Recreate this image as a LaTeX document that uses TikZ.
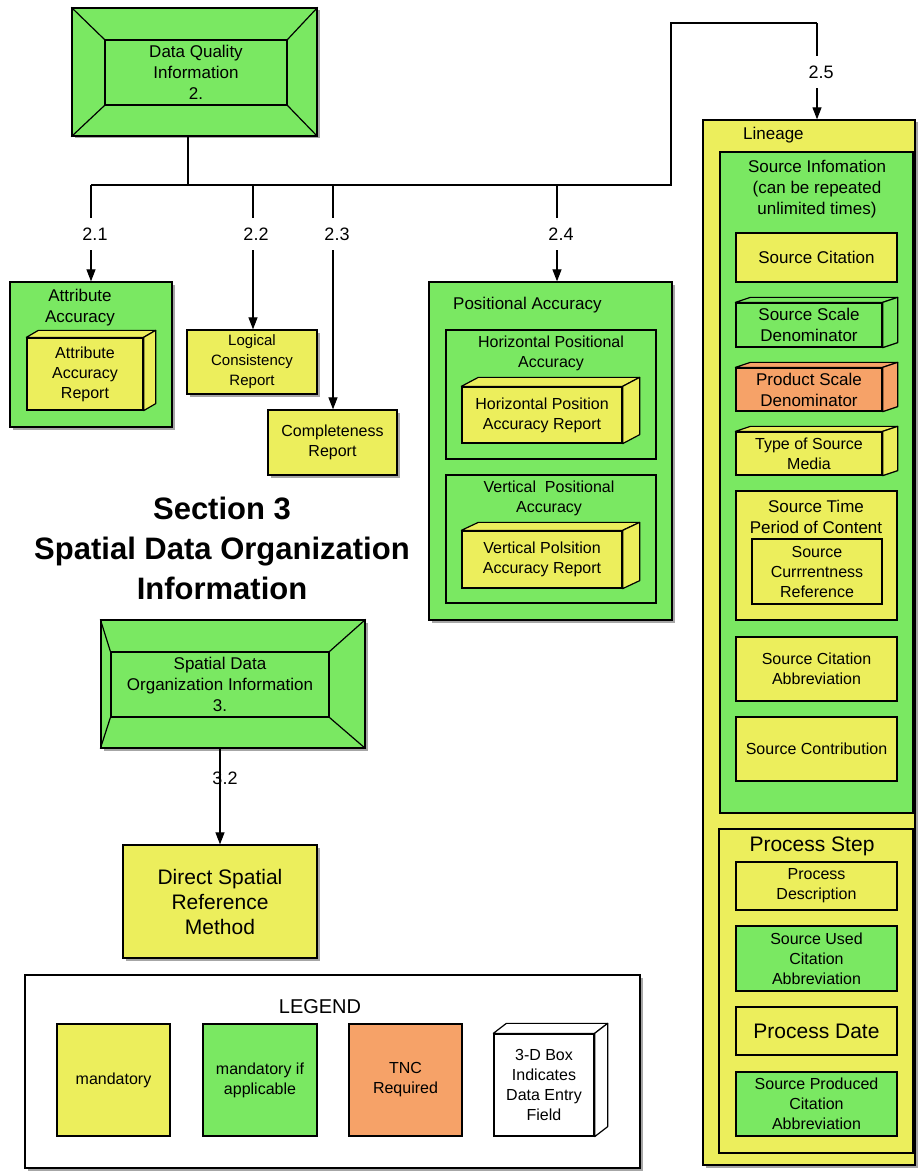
\documentclass[tikz,border=0pt]{standalone}
\usepackage{fontspec}
\setmainfont{Liberation Sans}
\usetikzlibrary{arrows.meta,shadows,calc}
\definecolor{yel}{RGB}{236,238,92}
\definecolor{grn}{RGB}{122,232,98}
\definecolor{org}{RGB}{246,162,104}
\newcommand\fs[2]{\fontsize{#1}{#2}\selectfont}
\newcommand\cube[4]{%
  \draw[face, fill=#4] (#1.north west) -- ++(#2,-#3) -- ($(#1.north east)+(#2,-#3)$) -- (#1.north east) -- cycle;
  \draw[face, fill=#4] (#1.north east) -- ++(#2,-#3) -- ($(#1.south east)+(#2,-#3)$) -- (#1.south east) -- cycle;}
\newcommand\bevel[2]{%
  \draw[face] (#1.north west) -- (#2.north west) (#1.north east) -- (#2.north east)
    (#1.south west) -- (#2.south west) (#1.south east) -- (#2.south east);}
\begin{document}
\begin{tikzpicture}[x=1pt,y=-1pt,
  bx/.style={draw, line width=1.3pt, inner sep=0pt, align=center, font=\fs{17}{21}},
  rc/.style n args={4}{minimum width={#3-#1}, minimum height={#4-#2}, at={({(#1+#3)/2},{(#2+#4)/2})}},
  shd/.style={drop shadow={shadow xshift=2.5pt, shadow yshift=-2.5pt, opacity=0.35, fill=black}},
  ttl/.style={inner sep=0pt, align=center, font=\fs{17}{21}},
  num/.style={fill=white, inner sep=1pt, minimum height=32pt, font=\fs{18}{20}},
  arr/.style={line width=1.2pt, -{Triangle[length=12pt,width=9pt]}},
  ln/.style={line width=1.2pt},
  face/.style={line width=1.2pt, line join=round},
]
\useasboundingbox (0,0) rectangle (920,1174);

% ---------- Data Quality Information ----------
\node[bx, fill=grn, shd, rc={72}{8}{317}{136}] (dqo) {};
\node[bx, rc={105}{40}{287}{105}] (dqi) {Data Quality\\Information\\2.};
\bevel{dqo}{dqi}

% ---------- Attribute Accuracy ----------
\node[bx, fill=grn, shd, rc={10}{282}{172}{427}] (att) {};
\node[ttl] (attt) at (80,308) {Attribute\\Accuracy};
\node[bx, fill=yel, font=\fs{16}{20}, rc={27}{338}{143}{410}] (aar) {Attribute\\Accuracy\\Report};
\cube{aar}{12}{7}{yel}

% ---------- Logical / Completeness ----------
\node[bx, fill=yel, shd, font=\fs{15}{20}, rc={187}{330}{317}{394}] (lcr) {Logical\\Consistency\\Report};
\node[bx, fill=yel, shd, font=\fs{16}{20}, rc={268}{410}{397}{475}] (cmp) {Completeness\\Report};

% ---------- Positional Accuracy ----------
\node[bx, fill=grn, shd, rc={429}{282}{672}{620}] (pos) {};
\node[ttl, anchor=west] (post) at (453,305) {Positional Accuracy};
\node[bx, rc={446}{330}{656}{459}] (hpa) {};
\node[ttl, font=\fs{16}{20}] (hpat) at (551,353) {Horizontal Positional\\Accuracy};
\node[bx, fill=yel, font=\fs{16}{20}, rc={462}{387}{622}{443}] (hpr) {Horizontal Position\\Accuracy Report};
\cube{hpr}{17}{9}{yel}
\node[bx, rc={446}{475}{656}{603}] (vpa) {};
\node[ttl, font=\fs{16}{20}] (vpat) at (549,498) {Vertical\ \ Positional\\Accuracy};
\node[bx, fill=yel, font=\fs{16}{20}, rc={462}{531}{622}{588}] (vpr) {Vertical Polsition\\Accuracy Report};
\cube{vpr}{17}{8}{yel}

% ---------- Lineage ----------
\node[bx, fill=yel, shd, rc={703}{120}{915}{1165}] (lin) {};
\node[ttl, anchor=west] (lint) at (743,135) {Lineage};
\node[bx, fill=grn, rc={720}{152}{913}{813}] (src) {};
\node[ttl] (srct) at (817,189) {Source Infomation\\(can be repeated\\unlimited times)};
\node[bx, fill=yel, rc={736}{233}{897}{282}] (sci) {Source Citation};
\node[bx, fill=grn, rc={736}{303}{882}{347}] (ssd) {Source Scale\\Denominator};
\cube{ssd}{15}{5}{grn}
\node[bx, fill=org, rc={736}{368}{882}{411}] (psd) {Product Scale\\Denominator};
\cube{psd}{15}{5}{org}
\node[bx, fill=yel, font=\fs{16}{20}, rc={736}{432}{882}{475}] (tsm) {Type of Source\\Media};
\cube{tsm}{15}{5}{yel}
\node[bx, fill=yel, rc={736}{491}{897}{620}] (stp) {};
\node[ttl] (stpt) at (816,517) {Source Time\\Period of Content};
\node[bx, fill=yel, font=\fs{16}{20}, rc={752}{539}{882}{604}] (scr) {Source\\Currrentness\\Reference};
\node[bx, fill=yel, font=\fs{16}{20}, rc={736}{637}{897}{701}] (sca) {Source Citation\\Abbreviation};
\node[bx, fill=yel, font=\fs{16}{20}, rc={736}{717}{897}{781}] (sco) {Source Contribution};

\node[bx, fill=yel, rc={719}{829}{913}{1153}] (pst) {};
\node[ttl, font=\fs{21}{24}] (pstt) at (812,846) {Process Step};
\node[bx, fill=yel, font=\fs{16}{20}, rc={736}{862}{897}{910}] (pde) {Process\\Description};
\node[bx, fill=grn, font=\fs{16}{20}, rc={736}{926}{897}{991}] (suc) {Source Used\\Citation\\Abbreviation};
\node[bx, fill=yel, font=\fs{21}{24}, rc={736}{1007}{897}{1055}] (pda) {Process Date};
\node[bx, fill=grn, font=\fs{16}{20}, rc={736}{1072}{897}{1136}] (spc) {Source Produced\\Citation\\Abbreviation};

% ---------- Section 3 ----------
\node[inner sep=0pt, align=center, font=\bfseries\fs{31}{40}] (sec) at (222,548) {Section 3\\Spatial Data Organization\\Information};
\node[bx, fill=grn, shd, rc={101}{620}{365}{748}] (sdo) {};
\node[bx, rc={111}{652}{329}{717}] (sdi) {Spatial Data\\Organization Information\\3.};
\bevel{sdo}{sdi}
\node[bx, fill=yel, shd, font=\fs{21}{25}, rc={123}{845}{317}{958}] (dsr) {Direct Spatial\\Reference\\Method};

% ---------- Legend ----------
\node[bx, fill=white, shd, rc={25}{975}{640}{1168}] (leg) {};
\node[inner sep=0pt, font=\fs{20}{22}] (legt) at (320,1007) {LEGEND};
\node[bx, fill=yel, font=\fs{16}{20}, rc={57}{1024}{170}{1136}] (lm) {mandatory};
\node[bx, fill=grn, font=\fs{16}{20}, rc={203}{1024}{317}{1136}] (lma) {mandatory if\\applicable};
\node[bx, fill=org, font=\fs{16}{20}, rc={349}{1024}{462}{1136}] (ltn) {TNC\\Required};
\node[bx, fill=white, font=\fs{16}{20}, rc={494}{1034}{594}{1136}] (l3d) {3-D Box\\Indicates\\Data Entry\\Field};
\cube{l3d}{13}{10}{white}

% ---------- Connectors ----------
\coordinate (j0) at (188,185);
\coordinate (j1) at (91,185);
\coordinate (j2) at (253,185);
\coordinate (j3) at (333,185);
\coordinate (j4) at (557,185);
\coordinate (j5) at (671,185);
\coordinate (t1) at (671,23);
\coordinate (t2) at (817,23);
\draw[ln] (dqo.south -| j0) -- (j0);
\draw[ln] (j1) -- (j5) -- (t1) -- (t2);
\draw[arr] (t2) -- (t2 |- lin.north);
\draw[arr] (j1) -- (j1 |- att.north);
\draw[arr] (j2) -- (j2 |- lcr.north);
\draw[arr] (j3) -- (j3 |- cmp.north);
\draw[arr] (j4) -- (j4 |- pos.north);
\node[num] (l21) at (95,234) {2.1};
\node[num] (l22) at (256,234) {2.2};
\node[num] (l23) at (337,234) {2.3};
\node[num] (l24) at (561,234) {2.4};
\node[num] (l25) at (821,72) {2.5};
\draw[arr] (sdo.south -| dsr.north) -- (dsr.north);
\node[inner sep=0pt, font=\fs{18}{20}] (l32) at (225,778) {3.2};
\end{tikzpicture}
\end{document}
